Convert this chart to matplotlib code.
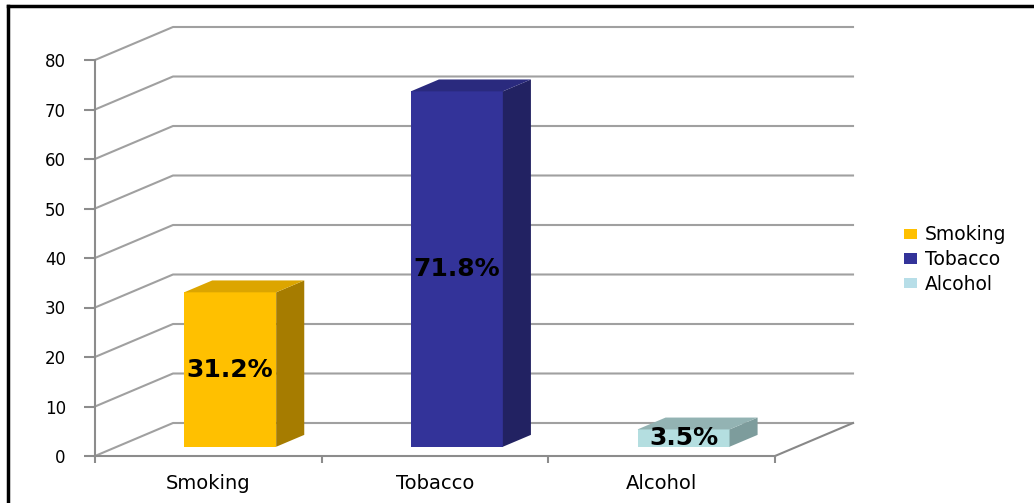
import matplotlib.pyplot as plt
from matplotlib.patches import Polygon, Patch
from matplotlib.lines import Line2D

categories = ['Smoking', 'Tobacco', 'Alcohol']
values = [31.2, 71.8, 3.5]
labels = ['31.2%', '71.8%', '3.5%']
yticks = [0, 10, 20, 30, 40, 50, 60, 70, 80]

front_colors = ['#FFC000', '#333399', '#B4DEE0']
side_colors = ['#A67C00', '#222262', '#7D9C9C']
top_colors = ['#DCA500', '#2A2A7E', '#93B3B3']
legend_colors = ['#FFC000', '#333399', '#B7DEE8']

W, H = 1034, 503
fig = plt.figure(figsize=(W / 100, H / 100), dpi=100)
ax = fig.add_axes([95 / W, 47 / H, 680 / W, 396 / H])
ax.set_xlim(0, 3)
ax.set_ylim(0, 80)

# depth of the fake 3d floor, in data units
DX = 78 / 680 * 3
DY = 33 / 396 * 80
grid = '#a0a0a0'

for t in yticks:
    ax.plot([0, DX, 3 + DX], [t, t + DY, t + DY], color=grid, lw=1.5,
            clip_on=False, zorder=1)
ax.plot([3, 3 + DX], [0, DY], color='#888888', lw=1.5, clip_on=False, zorder=1)

bw = 92 / 680 * 3
f1, f2 = 0.28, 0.64
for i, v in enumerate(values):
    x0 = i + 0.5 - bw / 2 + f1 * DX
    y0 = f1 * DY
    x1 = x0 + bw
    y1 = y0 + v
    ddx = (f2 - f1) * DX
    ddy = (f2 - f1) * DY
    ax.add_patch(Polygon([(x0, y0), (x1, y0), (x1, y1), (x0, y1)],
                         closed=True, fc=front_colors[i], ec='none', zorder=3))
    ax.add_patch(Polygon([(x1, y0), (x1 + ddx, y0 + ddy), (x1 + ddx, y1 + ddy), (x1, y1)],
                         closed=True, fc=side_colors[i], ec='none', zorder=3))
    ax.add_patch(Polygon([(x0, y1), (x1, y1), (x1 + ddx, y1 + ddy), (x0 + ddx, y1 + ddy)],
                         closed=True, fc=top_colors[i], ec='none', zorder=3))
    ax.text((x0 + x1) / 2, y0 + v / 2, labels[i], ha='center', va='center',
            fontsize=18, fontweight='bold', color='black', zorder=10)

for s in ['top', 'right']:
    ax.spines[s].set_visible(False)
for s in ['left', 'bottom']:
    ax.spines[s].set_color('#8c8c8c')
    ax.spines[s].set_linewidth(1.5)
ax.spines['left'].set_zorder(2)

ax.set_yticks(yticks)
ax.set_yticklabels([str(t) for t in yticks], fontsize=12)
ax.set_xticks([0, 1, 2, 3])
ax.set_xticklabels([])
ax.set_xticks([0.5, 1.5, 2.5], minor=True)
ax.set_xticklabels(categories, minor=True, fontsize=14)
ax.tick_params(axis='x', which='minor', length=0, pad=13)
ax.tick_params(axis='x', which='major', length=5, width=1.5, color='#8c8c8c')
ax.tick_params(axis='y', length=8, width=1.5, color='#8c8c8c', pad=13)
ax.patch.set_alpha(0)

handles = [Patch(fc=c, ec='none') for c in legend_colors]
fig.legend(handles, categories, loc='upper left', bbox_to_anchor=(896 / W, 1 - 218 / H),
           frameon=False, fontsize=13.5, handlelength=0.7, handleheight=0.5,
           handletextpad=0.45, labelspacing=0.3, borderaxespad=0)

# outer frame (only top and left edges are visible)
fig.add_artist(Line2D([8 / W, 1], [1 - 6 / H, 1 - 6 / H], transform=fig.transFigure,
                      color='black', lw=2.5))
fig.add_artist(Line2D([8 / W, 8 / W], [0, 1 - 6 / H], transform=fig.transFigure,
                      color='black', lw=2.5))

fig.savefig('out.png', dpi=100)
